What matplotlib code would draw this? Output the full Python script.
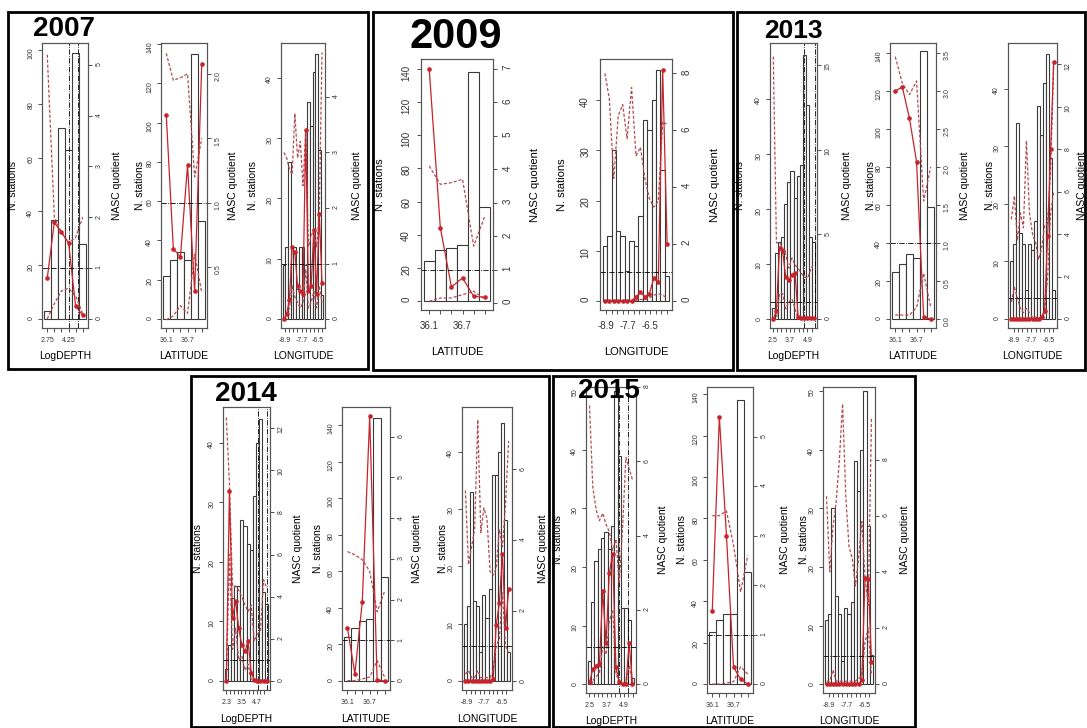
import numpy as np
import matplotlib.pyplot as plt
from matplotlib.patches import Rectangle

plt.rcParams['font.family'] = ['Liberation Sans', 'DejaVu Sans']

# ---------------- values ----------------
# x is in bin-index space: one unit per histogram bin
xlab_names = {'depth': 'LogDEPTH', 'lat': 'LATITUDE', 'lon': 'LONGITUDE'}
depth_ticklabels_2007 = ['2.75', '4.25']
depth_ticklabels = ['2.5', '3.7', '4.9']
depth_ticklabels_2014 = ['2.3', '3.5', '4.7']
lat_ticklabels = ['36.1', '36.7']
lon_ticklabels = ['-8.9', '-7.7', '-6.5']

# 2007
bars_2007_depth = [3, 37, 71, 63, 99, 28]
mean_2007_depth = [0.8, 1.9, 1.7, 1.5, 0.25, 0.07]
upper_2007_depth = [5.2, 2.0, 1.7, 1.5, 1.6, 2.0]
lower_2007_depth = [0.0, 0.3, 0.55, 0.6, 0.45, 0.1]

bars_2007_lat = [22, 30, 34, 30, 135, 50]
mean_2007_lat = [1.68, 0.64, 0.58, 1.29, 0.31, 2.08]
upper_2007_lat = [2.16, 1.95, 1.97, 2.0, 1.2, 1.5]
lower_2007_lat = [0.09, 0.12, 0.2, 0.14, 0.6, 0.3]

bars_2007_lon = [9, 12, 26, 12, 12, 5, 12, 12, 9, 36, 32, 41, 44, 28, 4]
mean_2007_lon = [0.0, 0.1, 0.35, 1.3, 1.2, 0.6, 0.5, 0.45, 3.4, 0.5, 0.6, 1.6, 0.45, 1.9, 0.65]
upper_2007_lon = [3.0, 2.9, 2.7, 2.6, 3.7, 2.9, 3.2, 2.4, 3.4, 1.3, 1.5, 1.6, 1.3, 1.9, 4.8]
lower_2007_lon = [0.0, 0.05, 0.2, 0.6, 0.4, 0.3, 0.2, 0.3, 0.9, 0.2, 0.3, 0.5, 0.2, 0.6, 0.3]

# 2009
bars_2009_lat = [24, 31, 32, 34, 138, 57]
mean_2009_lat = [7.0, 2.25, 0.48, 0.75, 0.2, 0.17]
upper_2009_lat = [4.1, 3.55, 3.6, 3.7, 1.7, 2.6]
lower_2009_lat = [0.05, 0.15, 0.15, 0.25, 0.35, 0.12]

bars_2009_lon = [11, 13, 30, 14, 13, 6, 12, 11, 17, 36, 34, 40, 46, 26, 5]
mean_2009_lon = [0, 0, 0, 0, 0, 0, 0, 0.15, 0.3, 0.15, 0.25, 0.8, 0.65, 8.1, 2.0]
upper_2009_lon = [8.0, 7.1, 4.3, 6.5, 6.9, 5.7, 7.5, 5.1, 5.4, 4.3, 3.6, 3.3, 3.5, 6.3, 6.2]
lower_2009_lon = [0, 0, 0, 0, 0, 0, 0, 0.02, 0.05, 0.05, 0.1, 0.2, 0.25, 0.2, 0.1]

# 2013
bars_2013_depth = [2, 12, 14, 15, 21, 25, 27, 22, 26, 28, 48, 39, 15, 14]
mean_2013_depth = [0, 0.5, 4.2, 4.0, 2.5, 2.3, 2.6, 2.7, 0.1, 0.05, 0.05, 0.05, 0.05, 0.05]
upper_2013_depth = [15.5, 4.5, 4.5, 4.2, 3.8, 3.0, 3.6, 3.2, 3.0, 2.7, 2.5, 2.4, 2.9, 3.3]
lower_2013_depth = [0, 0, 1.5, 1.5, 0.6, 1.0, 1.2, 0.6, 0, 0, 0, 0, 0, 0]

bars_2013_lat = [25, 29, 34, 32, 141, 59]
mean_2013_lat = [3.0, 3.05, 2.64, 2.07, 0.02, 0.0]
upper_2013_lat = [3.45, 3.1, 2.95, 3.13, 1.55, 2.0]
lower_2013_lat = [0.05, 0.05, 0.05, 0.15, 0.6, 0.15]

bars_2013_lon = [10, 13, 34, 15, 13, 5, 13, 12, 17, 37, 32, 41, 46, 28, 5]
mean_2013_lon = [0, 0, 0, 0, 0, 0, 0, 0, 0, 0, 0.1, 0.4, 3.9, 8.0, 12.1]
upper_2013_lon = [4.7, 5.8, 3.7, 5.0, 4.3, 8.4, 5.0, 4.0, 3.6, 2.8, 3.3, 4.4, 4.5, 7.0, 12.0]
lower_2013_lon = [0.8, 1.5, 1.0, 0.5, 0.3, 0.5, 0.3, 0.1, 0.1, 0.05, 0.1, 0.3, 2.0, 5.0, 6.0]

# 2014
bars_2014_depth = [2, 6, 14, 16, 16, 27, 26, 23, 22, 31, 40, 44, 15, 13]
mean_2014_depth = [0, 9.0, 3.0, 3.8, 2.5, 1.7, 1.4, 1.9, 0.4, 0.05, 0.02, 0, 0, 0]
upper_2014_depth = [12.5, 9.4, 4.5, 4.5, 4.3, 4.0, 3.6, 3.3, 3.6, 1.9, 2.2, 2.4, 4.8, 4.4]
lower_2014_depth = [0, 6.0, 1.5, 2.5, 1.0, 1.2, 0.5, 0.8, 0.1, 0, 0, 0, 0, 0]

bars_2014_lat = [24, 29, 33, 34, 144, 57]
mean_2014_lat = [1.3, 0.18, 1.95, 6.5, 0.03, 0.0]
upper_2014_lat = [3.18, 3.1, 2.98, 2.7, 1.7, 2.2]
lower_2014_lat = [0.01, 0.01, 0.05, 0.1, 0.5, 0.1]

bars_2014_lon = [10, 13, 33, 14, 13, 5, 15, 11, 16, 36, 36, 40, 45, 28, 5]
mean_2014_lon = [0, 0, 0, 0, 0, 0, 0, 0, 0, 0.05, 1.6, 2.2, 3.6, 1.5, 2.6]
upper_2014_lon = [5.4, 3.3, 3.8, 4.3, 7.4, 4.2, 4.9, 4.6, 3.1, 3.0, 3.2, 4.3, 3.8, 5.0, 6.8]
lower_2014_lon = [0.2, 0.3, 0.1, 0.1, 0.3, 0.1, 0.1, 0.1, 0.1, 0.3, 1.0, 1.2, 2.5, 1.0, 0.8]

# 2015
bars_2015_depth = [4, 14, 21, 23, 25, 26, 23, 27, 50, 39, 13, 13, 11, 1]
mean_2015_depth = [0.05, 0.4, 0.5, 0.55, 2.5, 1.1, 3.0, 3.5, 0.45, 0.05, 0, 0, 1.1, 0]
upper_2015_depth = [7.5, 5.3, 4.7, 4.4, 4.6, 4.3, 4.1, 3.6, 3.9, 2.7, 4.2, 6.1, 5.8, 5.5]
lower_2015_depth = [0, 0.1, 0.2, 0.3, 1.0, 0.8, 1.7, 2.0, 0.3, 0, 0, 0, 0.5, 0]

bars_2015_lat = [25, 31, 34, 34, 137, 54]
mean_2015_lat = [1.47, 5.4, 3.0, 0.34, 0.1, 0.0]
upper_2015_lat = [3.4, 3.4, 3.5, 2.8, 1.86, 2.6]
lower_2015_lat = [0.0, 0.0, 0.02, 0.05, 0.35, 0.2]

bars_2015_lon = [11, 12, 30, 15, 12, 4, 13, 12, 14, 38, 33, 40, 50, 27, 5]
mean_2015_lon = [0, 0, 0, 0, 0, 0, 0, 0, 0, 0, 0, 0.15, 3.8, 3.75, 0.8]
upper_2015_lon = [6.7, 4.0, 5.6, 6.5, 8.0, 10.0, 6.7, 4.9, 4.5, 3.5, 4.5, 5.8, 3.8, 2.8, 9.5]
lower_2015_lon = [0.1, 0.1, 0.5, 0.1, 0.1, 0.1, 0.1, 0.1, 0.1, 0.1, 0.2, 0.3, 1.5, 2.0, 0.3]

series = {
    ('2007', 'depth'): (bars_2007_depth, mean_2007_depth, upper_2007_depth, lower_2007_depth),
    ('2007', 'lat'): (bars_2007_lat, mean_2007_lat, upper_2007_lat, lower_2007_lat),
    ('2007', 'lon'): (bars_2007_lon, mean_2007_lon, upper_2007_lon, lower_2007_lon),
    ('2009', 'lat'): (bars_2009_lat, mean_2009_lat, upper_2009_lat, lower_2009_lat),
    ('2009', 'lon'): (bars_2009_lon, mean_2009_lon, upper_2009_lon, lower_2009_lon),
    ('2013', 'depth'): (bars_2013_depth, mean_2013_depth, upper_2013_depth, lower_2013_depth),
    ('2013', 'lat'): (bars_2013_lat, mean_2013_lat, upper_2013_lat, lower_2013_lat),
    ('2013', 'lon'): (bars_2013_lon, mean_2013_lon, upper_2013_lon, lower_2013_lon),
    ('2014', 'depth'): (bars_2014_depth, mean_2014_depth, upper_2014_depth, lower_2014_depth),
    ('2014', 'lat'): (bars_2014_lat, mean_2014_lat, upper_2014_lat, lower_2014_lat),
    ('2014', 'lon'): (bars_2014_lon, mean_2014_lon, upper_2014_lon, lower_2014_lon),
    ('2015', 'depth'): (bars_2015_depth, mean_2015_depth, upper_2015_depth, lower_2015_depth),
    ('2015', 'lat'): (bars_2015_lat, mean_2015_lat, upper_2015_lat, lower_2015_lat),
    ('2015', 'lon'): (bars_2015_lon, mean_2015_lon, upper_2015_lon, lower_2015_lon),
}

# ---------------- layout (pixels of the 1087x728 picture) ----------------
W, H = 1087, 728
RED = '#c8232b'
CI = '#b24c55'

boxes = {'2007': (8, 12, 368, 369), '2009': (373, 12, 733, 370), '2013': (737, 12, 1085, 370),
         '2014': (191, 376, 549, 727), '2015': (553, 376, 915, 727)}
titles = {'2007': (64, 29, 20), '2009': (456, 37, 30), '2013': (793, 31, 19),
          '2014': (246, 394, 20), '2015': (609, 391, 20)}

# frame, left ylim/ticks, right ylim/ticks, x ticks (start, step, count) + labelled ticks,
# label offsets (left, right) in px
panels = [
    dict(y='2007', v='depth', fr=(42, 43, 88, 328), yl=(-3.3, 102.6), yt=np.arange(0, 101, 20),
         yl2=(-0.18, 5.43), yt2=np.arange(0, 6), xt=(0.5, 1.0, 6), xtl=dict(zip([0, 3], depth_ticklabels_2007)),
         vl=(3.5, 4.8), off=(29, 29)),
    dict(y='2007', v='lat', fr=(161, 43, 207, 328), yl=(-4.6, 140.5), yt=np.arange(0, 141, 20),
         yl2=(0.026, 2.24), yt2=np.arange(0.5, 2.01, 0.5), xt=(0.5, 1.0, 6), xtl=dict(zip([0, 3], lat_ticklabels)),
         off=(21, 26)),
    dict(y='2007', v='lon', fr=(281, 43, 325, 328), yl=(-1.5, 45.8), yt=np.arange(0, 41, 10),
         yl2=(-0.16, 4.97), yt2=np.arange(0, 5), xt=(0.87, 1.53, 10), xtl=dict(zip([0, 4, 8], lon_ticklabels)),
         off=(28, 32)),
    dict(y='2009', v='lat', fr=(421, 59, 493, 310), yl=(-5.4, 146), yt=np.arange(0, 141, 20),
         yl2=(-0.21, 7.3), yt2=np.arange(0, 8), xt=(0.5, 1.0, 6), xtl=dict(zip([0, 3], lat_ticklabels)),
         off=(41, 42)),
    dict(y='2009', v='lon', fr=(600, 59, 672, 310), yl=(-1.8, 48.2), yt=np.arange(0, 41, 10),
         yl2=(-0.32, 8.5), yt2=np.arange(0, 9, 2), xt=(0.8, 1.24, 12), xtl=dict(zip([0, 4, 8], lon_ticklabels)),
         off=(38, 43)),
    dict(y='2013', v='depth', fr=(770, 43, 817, 328), yl=(-1.6, 50.2), yt=np.arange(0, 41, 10),
         yl2=(-0.53, 16.3), yt2=np.arange(0, 16, 5), xt=(0.3, 1.4, 10), xtl=dict(zip([0, 4, 8], depth_ticklabels)),
         vl=(10.3, 13.9), off=(30, 30)),
    dict(y='2013', v='lat', fr=(890, 43, 936, 328), yl=(-4.7, 145.3), yt=np.arange(0, 141, 20),
         yl2=(-0.12, 3.63), yt2=np.arange(0, 3.51, 0.5), xt=(0.5, 1.0, 6), xtl=dict(zip([0, 3], lat_ticklabels)),
         off=(19, 29)),
    dict(y='2013', v='lon', fr=(1008, 43, 1057, 328), yl=(-1.57, 48), yt=np.arange(0, 41, 10),
         yl2=(-0.42, 13.0), yt2=np.arange(0, 13, 2), xt=(1.3, 1.44, 10), xtl=dict(zip([0, 4, 8], lon_ticklabels)),
         off=(18, 25)),
    dict(y='2014', v='depth', fr=(223, 407, 270, 690), yl=(-1.5, 46.0), yt=np.arange(0, 41, 10),
         yl2=(-0.43, 13.0), yt2=np.arange(0, 13, 2), xt=(0.5, 1.22, 11), xtl=dict(zip([0, 4, 8], depth_ticklabels_2014)),
         vl=(10.8, 13.7), off=(25, 28)),
    dict(y='2014', v='lat', fr=(342, 407, 390, 690), yl=(-4.9, 149.8), yt=np.arange(0, 141, 20),
         yl2=(-0.22, 6.73), yt2=np.arange(0, 7), xt=(0.5, 1.0, 6), xtl=dict(zip([0, 3], lat_ticklabels)),
         off=(24, 27)),
    dict(y='2014', v='lon', fr=(462, 407, 512, 690), yl=(-1.57, 47.8), yt=np.arange(0, 41, 10),
         yl2=(-0.25, 7.76), yt2=np.arange(0, 7, 2), xt=(0.8, 1.44, 10), xtl=dict(zip([0, 4, 8], lon_ticklabels)),
         off=(19, 31)),
    dict(y='2015', v='depth', fr=(586, 387, 636, 693), yl=(-1.5, 50.7), yt=np.arange(0, 51, 10),
         yl2=(-0.24, 8.0), yt2=np.arange(0, 9, 2), xt=(0.45, 1.31, 11), xtl=dict(zip([0, 4, 8], depth_ticklabels)),
         vl=(9.4, 12.2), off=(28, 27)),
    dict(y='2015', v='lat', fr=(707, 387, 753, 693), yl=(-4.3, 143.5), yt=np.arange(0, 141, 20),
         yl2=(-0.18, 6.0), yt2=np.arange(0, 6), xt=(0.5, 1.0, 6), xtl=dict(zip([0, 3], lat_ticklabels)),
         off=(25, 32)),
    dict(y='2015', v='lon', fr=(823, 387, 875, 693), yl=(-1.5, 50.7), yt=np.arange(0, 51, 10),
         yl2=(-0.32, 10.6), yt2=np.arange(0, 9, 2), xt=(1.2, 1.4, 10), xtl=dict(zip([0, 4, 8], lon_ticklabels)),
         off=(19, 30)),
]

fig = plt.figure(figsize=(W / 100, H / 100), dpi=100)

for yr, (x0, y0, x1, y1) in boxes.items():
    fig.add_artist(Rectangle((x0 / W, 1 - y1 / H), (x1 - x0) / W, (y1 - y0) / H,
                             transform=fig.transFigure, fill=False, lw=2, ec='black'))

for p in panels:
    big = p['y'] == '2009'
    fs_tick = 7 if big else 5
    fs_lab = 8 if big else 7.5
    x0, y0, x1, y1 = p['fr']
    wpx, hpx = x1 - x0, y1 - y0
    ax = fig.add_axes([x0 / W, 1 - y1 / H, wpx / W, hpx / H])
    bars, mean, up, lo = series[(p['y'], p['v'])]
    n = len(bars)
    ax.bar(np.arange(n), bars, width=1, align='edge', facecolor='white',
           edgecolor='#3a3a3a', lw=0.8)
    ax.set_xlim(-0.04 * n, 1.04 * n)
    ax.set_ylim(*p['yl'])
    ax.set_yticks(p['yt'])
    for v in p.get('vl', ()):
        ax.axvline(v, color='black', lw=0.6, ls='-.')

    s0, ds, cnt = p['xt']
    ax.set_xticks(s0 + ds * np.arange(cnt))
    ax.set_xticklabels([p['xtl'].get(i, '') for i in range(cnt)])

    ax2 = ax.twinx()
    ax2.set_ylim(*p['yl2'])
    ax2.set_yticks(p['yt2'])
    if p['yt2'][1] - p['yt2'][0] < 1:
        ax2.set_yticklabels(['%.1f' % t for t in p['yt2']])
    xc = np.arange(n) + 0.5
    ax2.plot(xc, up, ls=(0, (2.5, 1.5)), color=CI, lw=0.9)
    ax2.plot(xc, lo, ls=(0, (2.5, 1.5)), color=CI, lw=0.9)
    ax2.plot(xc, mean, '-o', color=RED, lw=0.9, ms=2.3)
    ax2.axhline(1, color='black', lw=0.6, ls='-.')

    pad_x = 5 if big else 3.5
    pad_y = 4 if big else 2.5
    for a in (ax, ax2):
        for s in a.spines.values():
            s.set_color('#555555')
            s.set_linewidth(0.8)
        a.tick_params(axis='both', length=3, width=0.6, labelsize=fs_tick, colors='#333333')
        a.tick_params(axis='y', labelrotation=90, pad=pad_y)
    ax.tick_params(axis='x', pad=pad_x)

    ax.set_ylabel('N. stations', fontsize=fs_lab)
    ax.yaxis.set_label_coords(-p['off'][0] / wpx, 0.5)
    ax.yaxis.label.set_va('center')
    ax2.set_ylabel('NASC quotient', fontsize=fs_lab)
    ax2.yaxis.set_label_coords(1 + p['off'][1] / wpx, 0.5)
    ax2.yaxis.label.set_va('center')
    ax.set_xlabel(xlab_names[p['v']], fontsize=fs_lab)
    ax.xaxis.set_label_coords(0.5, -(42 if big else 28.5) / hpx)
    ax.xaxis.label.set_va('center')

# year titles sit on top of the panels
for yr, (tx, ty, fs) in titles.items():
    fig.text(tx / W, 1 - ty / H, yr, fontsize=fs, fontweight='bold', ha='center', va='center',
             zorder=10)

fig.savefig('out.png', dpi=100)
